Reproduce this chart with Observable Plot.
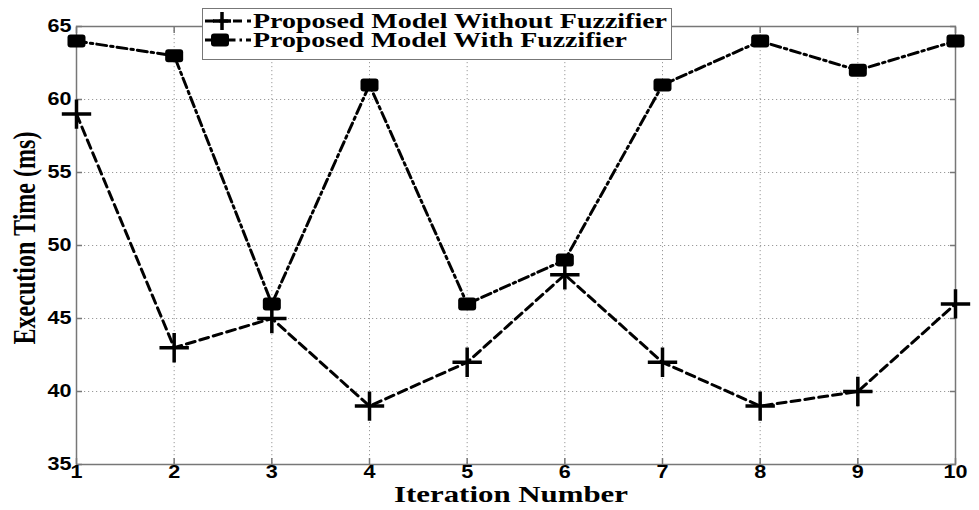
<!DOCTYPE html>
<html>
<head>
<meta charset="utf-8">
<script src="https://cdn.jsdelivr.net/npm/d3@7"></script>
<script src="https://cdn.jsdelivr.net/npm/@observablehq/plot@0.6"></script>
<style>
  html, body { margin: 0; padding: 0; background: white; }
  #wrap { position: relative; width: 979px; height: 510px; }
  #legend {
    position: absolute; left: 202px; top: 8px; width: 470px; height: 52px;
    background: white; border: 1.5px solid #777; box-sizing: border-box;
  }
  #legend svg { display: block; }
</style>
</head>
<body>
<div id="wrap"></div>
<script>
// Execution time per iteration for the two model variants
const iterations = [1, 2, 3, 4, 5, 6, 7, 8, 9, 10];
const withoutFuzzifier = [59, 43, 45, 39, 42, 48, 42, 39, 40, 46];
const withFuzzifier = [64, 63, 46, 61, 46, 49, 61, 64, 62, 64];
const yTicks = [35, 40, 45, 50, 55, 60, 65];
const seriesNames = ["Proposed Model Without Fuzzifier", "Proposed Model With Fuzzifier"];
const xLabel = "Iteration Number";
const yLabel = "Execution Time (ms)";

const rows = iterations.map((it, i) => ({
  iteration: it,
  without: withoutFuzzifier[i],
  with: withFuzzifier[i]
}));

// Wide rounded-rectangle marker used for the "with fuzzifier" series
const roundedBox = {
  draw(ctx) {
    const w = 9, h = 6.5, r = 3;
    ctx.moveTo(-w + r, -h);
    ctx.lineTo(w - r, -h);
    ctx.arcTo(w, -h, w, -h + r, r);
    ctx.lineTo(w, h - r);
    ctx.arcTo(w, h, w - r, h, r);
    ctx.lineTo(-w + r, h);
    ctx.arcTo(-w, h, -w, h - r, r);
    ctx.lineTo(-w, -h + r);
    ctx.arcTo(-w, -h, -w + r, -h, r);
    ctx.closePath();
  }
};

const gridStyle = { stroke: "#9a9a9a", strokeOpacity: 1, strokeWidth: 1, strokeDasharray: "1.2,2.8" };
const serif = "'Liberation Serif', 'Times New Roman', serif";
const sans = "'Liberation Sans', Arial, sans-serif";
const tickFont = { fontFamily: sans, fontWeight: "bold", fontSize: 18 };

const chart = Plot.plot({
  width: 979,
  height: 510,
  marginLeft: 76,
  marginRight: 24,
  marginTop: 26,
  marginBottom: 46,
  x: { domain: [1, 10] },
  y: { domain: [35, 65] },
  style: {
    fontFamily: sans,
    fontWeight: "bold",
    fontSize: "18px",
    color: "black",
    background: "white",
    overflow: "visible"
  },
  marks: [
    Plot.gridX(iterations, gridStyle),
    Plot.gridY(yTicks, gridStyle),
    Plot.frame({ stroke: "#777", strokeWidth: 1.5 }),
    Plot.axisY(yTicks, { anchor: "left", tickSize: -6, tickPadding: 11, stroke: "#777", strokeWidth: 1.5, label: null, ...tickFont }),
    Plot.axisY(yTicks, { anchor: "right", tickSize: -6, stroke: "#777", strokeWidth: 1.5, fill: "none", label: null }),
    Plot.axisX(iterations, { anchor: "bottom", tickSize: -6, tickPadding: 7, stroke: "#777", strokeWidth: 1.5, label: null, tickFormat: d => String(d), ...tickFont }),
    Plot.axisX(iterations, { anchor: "top", tickSize: -6, stroke: "#777", strokeWidth: 1.5, fill: "none", label: null }),
    Plot.line(rows, { x: "iteration", y: "without", stroke: "black", strokeWidth: 3, strokeDasharray: "9,5" }),
    Plot.line(rows, { x: "iteration", y: "with", stroke: "black", strokeWidth: 3, strokeDasharray: "10,4,2.5,4" }),
    Plot.dot(rows, { x: "iteration", y: "without", symbol: "plus", r: 9.5, stroke: "black", strokeWidth: 3.5 }),
    Plot.dot(rows, { x: "iteration", y: "with", symbol: roundedBox, fill: "black", stroke: "none" })
  ]
});

const svgSel = d3.select(chart);

// Widen the tick numerals a little (about 12px per digit)
svgSel.selectAll("g[aria-label$='tick label'] text").each(function () {
  const n = this.textContent.length;
  if (n) d3.select(this).attr("textLength", n * 12).attr("lengthAdjust", "spacingAndGlyphs");
});

// Axis titles in a bold serif face, stretched to their drawn lengths
svgSel.append("text")
  .attr("transform", "translate(511,494)")
  .attr("text-anchor", "middle").attr("dy", "0.35em")
  .attr("font-family", serif).attr("font-weight", "bold").attr("font-size", 24)
  .attr("textLength", 234).attr("lengthAdjust", "spacingAndGlyphs")
  .attr("fill", "black")
  .text(xLabel);
svgSel.append("text")
  .attr("transform", "translate(24,238) rotate(-90)")
  .attr("text-anchor", "middle").attr("dy", "0.35em")
  .attr("font-family", serif).attr("font-weight", "bold").attr("font-size", 31)
  .attr("textLength", 213).attr("lengthAdjust", "spacingAndGlyphs")
  .attr("fill", "black")
  .text(yLabel);

const wrap = document.getElementById("wrap");
wrap.appendChild(chart);

// Legend box drawn over the top of the plot frame
const legend = document.createElement("div");
legend.id = "legend";
wrap.appendChild(legend);
const lg = d3.select(legend).append("svg").attr("width", 468).attr("height", 49);
const rowsY = [12, 31];
const textWidths = [414, 374];
seriesNames.forEach((name, i) => {
  const y = rowsY[i];
  lg.append("line")
    .attr("x1", 2).attr("x2", 48).attr("y1", y).attr("y2", y)
    .attr("stroke", "black").attr("stroke-width", 3)
    .attr("stroke-dasharray", i === 0 ? "9,5" : "10,4,2.5,4");
  if (i === 0) {
    lg.append("path").attr("d", `M${19 - 9},${y}h18M19,${y - 9}v18`)
      .attr("stroke", "black").attr("stroke-width", 3.5);
  } else {
    lg.append("rect").attr("x", 17 - 9).attr("y", y - 6.5).attr("width", 18).attr("height", 13)
      .attr("rx", 3).attr("fill", "black");
  }
  lg.append("text")
    .attr("x", 50).attr("y", y).attr("dy", "0.35em")
    .attr("font-family", serif).attr("font-weight", "bold").attr("font-size", 21)
    .attr("textLength", textWidths[i]).attr("lengthAdjust", "spacingAndGlyphs")
    .text(name);
});
</script>
</body>
</html>
